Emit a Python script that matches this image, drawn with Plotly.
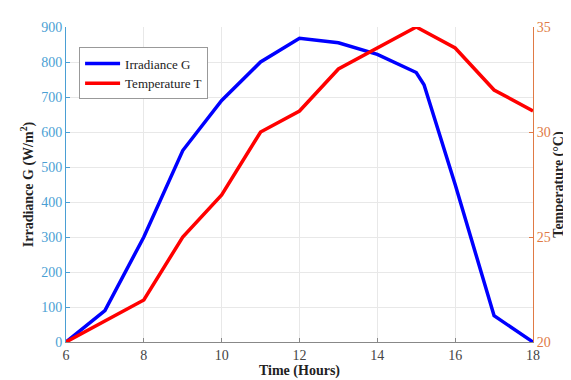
import plotly.graph_objects as go

hours_g = [6, 7, 8, 9, 10, 11, 12, 13, 14, 15, 15.2, 16, 17, 18]
irradiance = [0, 90, 300, 547, 690, 800, 868, 855, 822, 770, 735, 450, 75, 0]

hours_t = [6, 7, 8, 9, 10, 11, 12, 13, 14, 15, 16, 17, 18]
temperature = [20, 21, 22, 25, 27, 30, 31, 33, 34, 35, 34, 32, 31]

x_ticks = [6, 8, 10, 12, 14, 16, 18]
g_ticks = [0, 100, 200, 300, 400, 500, 600, 700, 800, 900]
t_ticks = [20, 25, 30, 35]

left_col = "#4a9fd4"
right_col = "#e07a45"
font = "Liberation Serif"

fig = go.Figure()
fig.add_trace(go.Scatter(x=hours_g, y=irradiance, mode="lines", name="Irradiance G",
                         line=dict(color="#0000ff", width=3.5)))
fig.add_trace(go.Scatter(x=hours_t, y=temperature, mode="lines", name="Temperature T",
                         line=dict(color="#ff0000", width=3.5), yaxis="y2"))

title_font = dict(family=font, size=14, color="#222")

fig.update_layout(
    width=571, height=380,
    margin=dict(l=58, r=46, t=13, b=43),
    paper_bgcolor="white", plot_bgcolor="white",
    font=dict(family=font, size=13, color="#333"),
    showlegend=True,
    legend=dict(x=0.028, y=0.935, xanchor="left", yanchor="top",
                bgcolor="white", bordercolor="#999", borderwidth=1,
                font=dict(family=font, size=13, color="#222"),
                tracegroupgap=0, itemwidth=35),
    xaxis=dict(range=[6, 18], tickvals=x_ticks, showgrid=True, gridcolor="#e8e8e8",
               zeroline=False, showline=True, linecolor="#888", linewidth=1,
               ticks="inside", ticklen=4, tickcolor="#888",
               tickfont=dict(family=font, size=14, color="#444"),
               title=dict(text="<b>Time (Hours)</b>", font=title_font, standoff=3)),
    yaxis=dict(range=[0, 900], tickvals=g_ticks, showgrid=True, gridcolor="#e8e8e8",
               zeroline=False, showline=True, linecolor=left_col, linewidth=1,
               ticks="inside", ticklen=4, tickcolor=left_col,
               tickfont=dict(family=font, size=14, color=left_col),
               title=dict(text="<b>Irradiance G (W/m<sup>2</sup>)</b>", font=title_font,
                          standoff=4)),
    yaxis2=dict(range=[20, 35], tickvals=t_ticks, overlaying="y", side="right",
                showgrid=False, zeroline=False, showline=True, linecolor=right_col, linewidth=1,
                ticks="inside", ticklen=4, tickcolor=right_col,
                tickfont=dict(family=font, size=14, color=right_col),
                title=dict(text="<b>Temperature (°C)</b>", font=title_font, standoff=0)),
)

fig.write_html("out.html")
